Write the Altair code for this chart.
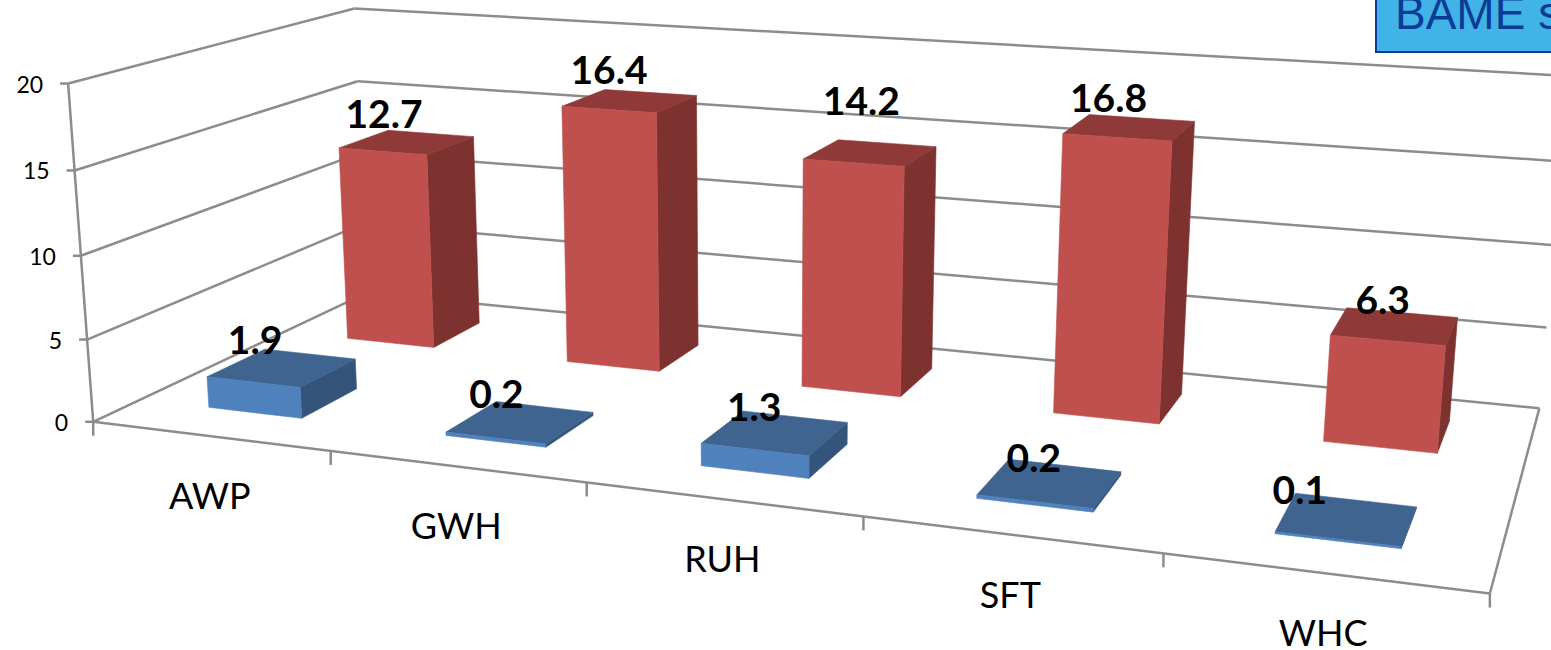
import altair as alt
import numpy as np

# Chart values
categories = ["AWP", "GWH", "RUH", "SFT", "WHC"]
blue_values = [1.9, 0.2, 1.3, 0.2, 0.1]
red_values = [12.7, 16.4, 14.2, 16.8, 6.3]
value_ticks = [0, 5, 10, 15, 20]
box_note = "BAME s"

W, H = 1551, 650
VALUE_MAX = 20

# Pinhole camera for the 3D box: world axes are category position, depth (0-1)
# and value as a share of VALUE_MAX; the result is in page pixels.
CAMERA = np.array([
    [225.5867, 346.337706, -27.551798, 93.203764],
    [12.935781, -70.640245, -341.276268, 421.760895],
    [-0.036076, 0.198655, -0.03644, 1.0],
])


def project(cat, depth, value):
    h = CAMERA @ np.array([cat, depth, value / VALUE_MAX, 1.0])
    return [float(h[0] / h[2]), float(h[1] / h[2])]


def polygon(points, fill):
    ring = points + [points[0]]
    return {"type": "Feature", "properties": {"fill": fill},
            "geometry": {"type": "Polygon", "coordinates": [ring]}}


def segment(a, b):
    return {"type": "Feature", "properties": {},
            "geometry": {"type": "LineString", "coordinates": [a, b]}}


def bar_faces(i, value, z0, z1, front, side, top):
    x0, x1 = i + 0.3, i + 0.7
    return [
        polygon([project(x1, z0, 0), project(x1, z1, 0),
                 project(x1, z1, value), project(x1, z0, value)], side),
        polygon([project(x0, z0, value), project(x1, z0, value),
                 project(x1, z1, value), project(x0, z1, value)], top),
        polygon([project(x0, z0, 0), project(x1, z0, 0),
                 project(x1, z0, value), project(x0, z0, value)], front),
    ]


RED_DEPTH = (0.66, 0.86)
BLUE_DEPTH = (0.15, 0.35)
n = len(categories)

# Box frame: walls, floor, value axis and tick marks
frame = []
for v in value_ticks:
    frame.append(segment(project(0, 0, v), project(0, 1, v)))
    frame.append(segment(project(0, 1, v), project(n, 1, v)))
    p = project(0, 0, v)
    frame.append(segment([p[0] - 8, p[1]], p))
frame.append(segment(project(0, 0, 0), project(0, 0, VALUE_MAX)))
frame.append(segment(project(0, 0, 0), project(n, 0, 0)))
frame.append(segment(project(n, 0, 0), project(n, 1, 0)))
for i in range(n + 1):
    p = project(i, 0, 0)
    frame.append(segment(p, [p[0], p[1] + 14]))

# Bars, far row first
faces = []
for i, v in enumerate(red_values):
    faces += bar_faces(i, v, *RED_DEPTH, "#C0504D", "#7D3230", "#8F3A38")
for i, v in enumerate(blue_values):
    faces += bar_faces(i, v, *BLUE_DEPTH, "#4F81BD", "#34547B", "#3E648F")

# Value labels sit up and left of each bar's top face
red_shift = [(-23, -26), (-21, -29), (-9, -50), (-21, -27), (-12, -24)]
blue_shift = [(-27, -26), (-24, -26), (-21, -24), (-16, -23), (-47, -27)]
value_labels = []
for i, (v, s) in enumerate(zip(red_values, red_shift)):
    p = project(i + 0.5, sum(RED_DEPTH) / 2, v)
    value_labels.append({"u": p[0] + s[0], "v": p[1] + s[1], "t": f"{v:.1f}"})
for i, (v, s) in enumerate(zip(blue_values, blue_shift)):
    p = project(i + 0.5, sum(BLUE_DEPTH) / 2, v)
    value_labels.append({"u": p[0] + s[0], "v": p[1] + s[1], "t": f"{v:.1f}"})

category_labels = []
for i, c in enumerate(categories):
    p = project(i + 0.5, 0, 0)
    category_labels.append({"u": p[0], "v": p[1] + 62, "t": c})

tick_labels = []
for v in value_ticks:
    p = project(0, 0, v)
    tick_labels.append({"u": p[0] - 25, "v": p[1] + 2, "t": str(v)})

# Callout box running off the top right corner
note_box = [polygon([[1376, -10], [1600, -10], [1600, 52], [1376, 52]], "#41B3E6")]
note_text = [{"u": 1395, "v": 29, "t": box_note}]

projection = alt.Projection(type="identity", scale=1, translate=[0, 0])


def geo(features):
    return alt.Chart(alt.Data(values=features))


def text_layer(rows, **mark):
    return alt.Chart(alt.Data(values=rows)).mark_text(**mark).encode(
        longitude="u:Q", latitude="v:Q", text="t:N"
    )


frame_layer = geo(frame).mark_geoshape(
    filled=False, stroke="#8C8C8C", strokeWidth=2.5
)
face_layer = geo(faces).mark_geoshape(strokeWidth=0.6).encode(
    fill=alt.Fill("properties.fill:N", scale=None),
    stroke=alt.Stroke("properties.fill:N", scale=None),
)
box_layer = geo(note_box).mark_geoshape(stroke="#0A3C96", strokeWidth=2).encode(
    fill=alt.Fill("properties.fill:N", scale=None)
)

chart = alt.layer(
    frame_layer,
    face_layer,
    box_layer,
    text_layer(tick_labels, font="Lato", fontSize=23, align="right", baseline="middle", color="#000000"),
    text_layer(category_labels, font="Lato", fontSize=36, align="center", baseline="middle", color="#000000"),
    text_layer(value_labels, font="Lato", fontSize=39, fontWeight="bold", align="center", baseline="middle", color="#000000"),
    text_layer(note_text, font="Liberation Sans", fontSize=46, align="left", baseline="alphabetic", color="#0A3C96"),
).properties(
    width=W, height=H, padding=0, autosize=alt.AutoSizeParams(type="none"),
    background="#FFFFFF", projection=projection,
).configure_view(stroke=None)

chart.save("out.html", embed_options={"renderer": "svg", "actions": False})
